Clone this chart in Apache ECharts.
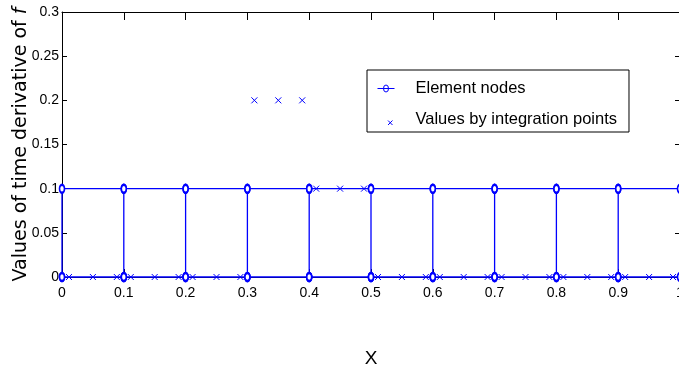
<!DOCTYPE html>
<html>
<head>
<meta charset="utf-8">
<script src="https://cdn.jsdelivr.net/npm/echarts@6/dist/echarts.min.js"></script>
<style>
  html, body { margin: 0; padding: 0; background: #fff; }
  #chart { width: 679px; height: 371px; }
</style>
</head>
<body>
<div id="chart"></div>
<script>
// Mesh nodes: every node carries a lower and an upper value
const nodeX    = [0, 0.1, 0.2, 0.3, 0.4, 0.5, 0.6, 0.7, 0.8, 0.9, 1];
const nodeLow  = [0, 0, 0, 0, 0, 0, 0, 0, 0, 0, 0];
const nodeHigh = [0.1, 0.1, 0.1, 0.1, 0.1, 0.1, 0.1, 0.1, 0.1, 0.1, 0.1];

// Three Gauss points per element and the value at each
const gaussX = [
  0.0113, 0.05, 0.0887,  0.1113, 0.15, 0.1887,  0.2113, 0.25, 0.2887,
  0.3113, 0.35, 0.3887,  0.4113, 0.45, 0.4887,  0.5113, 0.55, 0.5887,
  0.6113, 0.65, 0.6887,  0.7113, 0.75, 0.7887,  0.8113, 0.85, 0.8887,
  0.9113, 0.95, 0.9887
];
const gaussY = [
  0, 0, 0,  0, 0, 0,  0, 0, 0,
  0.2, 0.2, 0.2,  0.1, 0.1, 0.1,  0, 0, 0,
  0, 0, 0,  0, 0, 0,  0, 0, 0,
  0, 0, 0
];

// Tick labels
const xTickLabels = ['0', '0.1', '0.2', '0.3', '0.4', '0.5', '0.6', '0.7', '0.8', '0.9', '1'];
const yTickLabels = ['0', '0.05', '0.1', '0.15', '0.2', '0.25', '0.3'];

const seriesNames = ['Element nodes', 'Values by integration points'];
const xName = 'X';
const yName = 'Values of time derivative of {i|f}';

// Each element is outlined as a closed box through its four node values
const elementPath = [];
for (let i = 0; i < nodeX.length - 1; i++) {
  elementPath.push([nodeX[i], nodeLow[i]]);
  elementPath.push([nodeX[i], nodeHigh[i]]);
  elementPath.push([nodeX[i + 1], nodeHigh[i + 1]]);
  elementPath.push([nodeX[i + 1], nodeLow[i + 1]]);
  elementPath.push([nodeX[i], nodeLow[i]]);
  elementPath.push(['-', '-']);
}
const gaussPoints = gaussX.map((x, i) => [x, gaussY[i]]);

const BLUE = '#0000ff';
const tickFont = "'Liberation Sans', Arial, sans-serif";
const textFont = "'Liberation Sans', Arial, sans-serif";

function labelFrom(list, step) {
  return v => {
    const k = Math.round(v / step);
    return list[k] !== undefined ? list[k] : '';
  };
}

const chart = echarts.init(document.getElementById('chart'), null, { renderer: 'canvas' });

const axisLine = { show: true, onZero: false, lineStyle: { color: '#000', width: 1 } };

chart.setOption({
  animation: false,
  backgroundColor: '#fff',
  grid: { left: 62, top: 12, width: 618, height: 265, containLabel: false, outerBoundsMode: 'none' },
  xAxis: [
    {
      type: 'value', position: 'bottom', min: 0, max: 1, interval: 0.1,
      axisLine: axisLine,
      axisTick: { show: true, inside: true, length: 8, lineStyle: { color: '#000' } },
      axisLabel: { show: true, margin: 9, color: '#000', fontSize: 14, fontFamily: tickFont,
                   formatter: labelFrom(xTickLabels, 0.1) },
      splitLine: { show: false },
      name: xName, nameLocation: 'middle', nameGap: 72,
      nameTextStyle: { color: '#000', fontSize: 19, fontFamily: tickFont }
    },
    {
      type: 'value', position: 'top', min: 0, max: 1, interval: 0.1,
      axisLine: axisLine,
      axisTick: { show: true, inside: true, length: 8, lineStyle: { color: '#000' } },
      axisLabel: { show: false },
      splitLine: { show: false }
    }
  ],
  yAxis: [
    {
      type: 'value', position: 'left', min: 0, max: 0.3, interval: 0.05,
      axisLine: axisLine,
      axisTick: { show: true, inside: true, length: 5, lineStyle: { color: '#000' } },
      axisLabel: { show: true, margin: 3, color: '#000', fontSize: 14, fontFamily: tickFont,
                   formatter: labelFrom(yTickLabels, 0.05) },
      splitLine: { show: false },
      name: yName, nameLocation: 'middle', nameGap: 31, nameRotate: 90,
      nameMoveOverlap: false,
      nameTextStyle: {
        color: '#000', fontSize: 19, fontFamily: "'DejaVu Sans', sans-serif",
        rich: { i: { fontStyle: 'italic', fontSize: 19, fontFamily: "'DejaVu Sans', sans-serif", color: '#000' } }
      }
    },
    {
      type: 'value', position: 'right', min: 0, max: 0.3, interval: 0.05,
      axisLine: axisLine,
      axisTick: { show: true, inside: true, length: 5, lineStyle: { color: '#000' } },
      axisLabel: { show: false },
      splitLine: { show: false }
    }
  ],
  legend: {
    orient: 'vertical',
    left: 367, top: 70,
    padding: [10, 12, 4, 10],
    itemWidth: 17, itemHeight: 14, itemGap: 14,
    backgroundColor: '#fff',
    borderColor: '#000', borderWidth: 1, borderRadius: 0,
    selectedMode: false,
    textStyle: { color: '#000', fontSize: 16.5, fontFamily: textFont, padding: [0, 0, 0, 16] },
    data: [
      {
        name: seriesNames[0],
        icon: 'path://M0,0M17,14M0,7L17,7M6,7A2.5,3.5 0 1,1 11,7A2.5,3.5 0 1,1 6,7',
        itemStyle: { color: 'transparent', borderColor: BLUE, borderWidth: 1 }
      },
      {
        name: seriesNames[1],
        icon: 'path://M0,0M17,14M10.5,8L15,12.5M15,8L10.5,12.5',
        itemStyle: { color: 'transparent', borderColor: BLUE, borderWidth: 1 }
      }
    ]
  },
  series: [
    {
      name: seriesNames[0],
      type: 'line',
      xAxisIndex: 0, yAxisIndex: 0,
      data: elementPath,
      connectNulls: false,
      showSymbol: true, showAllSymbol: true,
      symbol: 'emptyCircle', symbolSize: [5, 8],
      lineStyle: { color: BLUE, width: 1.3 },
      itemStyle: { color: BLUE, borderColor: BLUE, borderWidth: 1.6 },
      z: 5,
      clip: false,
      silent: true
    },
    {
      name: seriesNames[1],
      type: 'scatter',
      xAxisIndex: 0, yAxisIndex: 0,
      data: gaussPoints,
      symbol: 'path://M0,0L10,10M10,0L0,10',
      symbolSize: 6,
      itemStyle: { color: 'transparent', borderColor: BLUE, borderWidth: 1, opacity: 1 },
      z: 6,
      clip: false,
      silent: true
    }
  ]
});
</script>
</body>
</html>
